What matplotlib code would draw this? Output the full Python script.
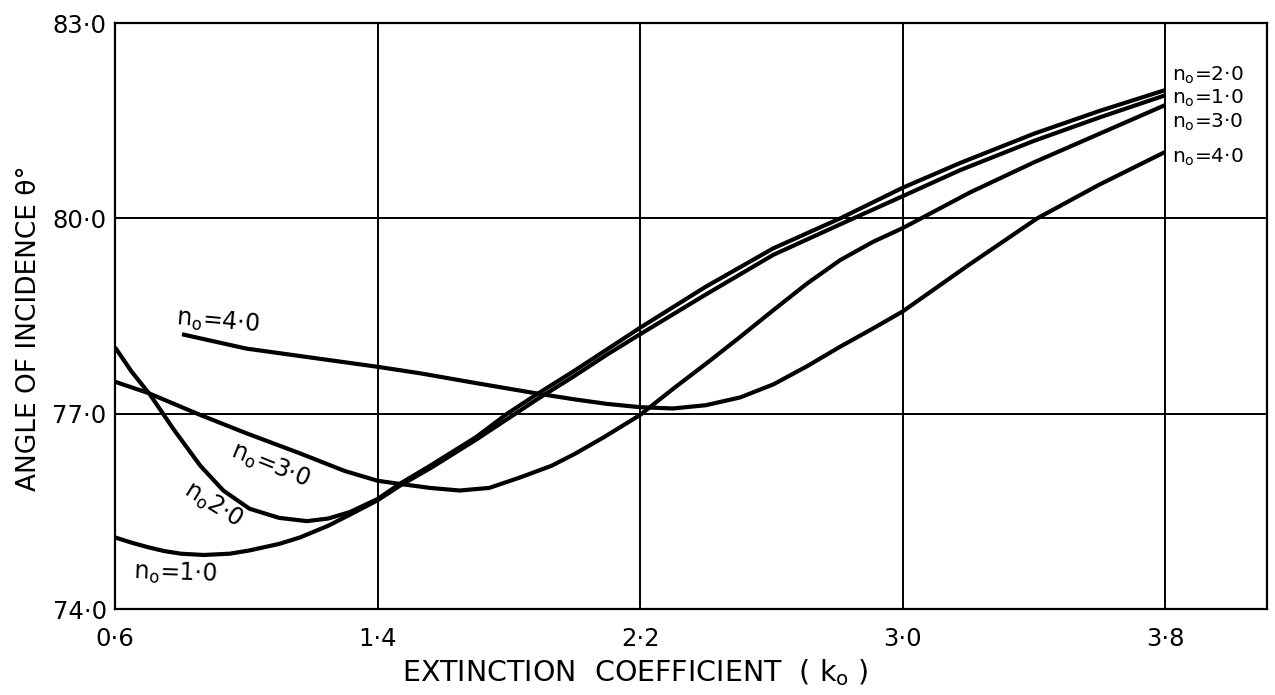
import numpy as np
import matplotlib.pyplot as plt

plt.rcParams['font.family'] = 'DejaVu Sans'
plt.rcParams['mathtext.default'] = 'regular'

# angle of incidence vs extinction coefficient, one curve per n_o
k_n1 = [0.60, 0.65, 0.70, 0.75, 0.80, 0.87, 0.95, 1.01, 1.10, 1.164, 1.25, 1.32, 1.40, 1.47, 1.56,
        1.70, 1.82, 1.886, 2.00, 2.10, 2.20, 2.40, 2.606, 2.85, 3.00, 3.175, 3.40, 3.60, 3.80]
th_n1 = [75.10, 75.02, 74.95, 74.89, 74.85, 74.83, 74.85, 74.90, 75.00, 75.10, 75.28, 75.46, 75.67, 75.90, 76.16,
         76.60, 77.00, 77.22, 77.58, 77.91, 78.22, 78.83, 79.44, 80.00, 80.34, 80.74, 81.19, 81.55, 81.89]

k_n2 = [0.60, 0.65, 0.707, 0.78, 0.86, 0.93, 1.01, 1.10, 1.185, 1.25, 1.316, 1.40, 1.47,
        1.56, 1.70, 1.795, 1.886, 2.00, 2.10, 2.20, 2.40, 2.606, 2.81, 3.00, 3.175, 3.40, 3.60, 3.80]
th_n2 = [78.02, 77.65, 77.29, 76.75, 76.20, 75.82, 75.54, 75.40, 75.35, 75.39, 75.49, 75.69, 75.93,
         76.20, 76.64, 77.00, 77.30, 77.66, 77.99, 78.32, 78.95, 79.54, 80.00, 80.47, 80.85, 81.30, 81.65, 81.97]

k_n3 = [0.60, 0.70, 0.86, 1.00, 1.164, 1.30, 1.40, 1.47, 1.56, 1.65, 1.74, 1.834, 1.93, 2.00,
        2.09, 2.20, 2.30, 2.404, 2.505, 2.606, 2.709, 2.81, 2.91, 3.00, 3.206, 3.40, 3.60, 3.80]
th_n3 = [77.49, 77.32, 76.98, 76.70, 76.39, 76.12, 75.97, 75.92, 75.86, 75.82, 75.86, 76.02, 76.20, 76.38,
         76.64, 76.98, 77.38, 77.78, 78.18, 78.59, 79.00, 79.36, 79.64, 79.85, 80.40, 80.86, 81.30, 81.74]

k_n4 = [0.804, 1.00, 1.20, 1.40, 1.53, 1.70, 1.886, 2.00, 2.10, 2.20, 2.30, 2.40, 2.505, 2.606,
        2.709, 2.81, 2.91, 3.00, 3.20, 3.41, 3.60, 3.80]
th_n4 = [78.22, 78.00, 77.86, 77.72, 77.62, 77.47, 77.31, 77.22, 77.15, 77.10, 77.08, 77.13, 77.25, 77.45,
         77.73, 78.03, 78.31, 78.57, 79.28, 80.00, 80.52, 81.02]

xticks = [0.6, 1.4, 2.2, 3.0, 3.8]
xtick_labels = ['0·6', '1·4', '2·2', '3·0', '3·8']
yticks = [74.0, 77.0, 80.0, 83.0]
ytick_labels = ['74·0', '77·0', '80·0', '83·0']

fig = plt.figure(figsize=(12.75, 6.95), dpi=100)
ax = fig.add_axes([0.0902, 0.1237, 0.9035, 0.8432])

lw = 3.0
for k, th in [(k_n1, th_n1), (k_n2, th_n2), (k_n3, th_n3), (k_n4, th_n4)]:
    ax.plot(k, th, color='black', lw=lw, solid_capstyle='butt', solid_joinstyle='round', zorder=3)

ax.set_xlim(0.6, 4.11)
ax.set_ylim(74.0, 83.0)
ax.set_xticks(xticks)
ax.set_xticklabels(xtick_labels)
ax.set_yticks(yticks)
ax.set_yticklabels(ytick_labels)
ax.tick_params(axis='both', length=0, labelsize=17.5)
ax.tick_params(axis='x', pad=13)
ax.tick_params(axis='y', pad=6)
ax.grid(True, color='black', lw=1.4)
for s in ax.spines.values():
    s.set_linewidth(1.6)

ax.set_xlabel('EXTINCTION  COEFFICIENT  ( k$_o$ )', fontsize=20.5, va='center')
ax.xaxis.set_label_coords(0.452, -0.109)
ax.set_ylabel('ANGLE OF INCIDENCE θ°', fontsize=19)
ax.yaxis.set_label_coords(-0.063, 0.48)

# curve labels inside the plot
ax.text(0.914, 78.41, 'n$_o$=4·0', fontsize=17, rotation=-5, ha='center', va='center')
ax.text(1.072, 76.21, 'n$_o$=3·0', fontsize=17, rotation=-22, ha='center', va='center')
ax.text(0.899, 75.60, 'n$_o$2·0', fontsize=17, rotation=-32, ha='center', va='center')
ax.text(0.783, 74.55, 'n$_o$=1·0', fontsize=17, rotation=-2, ha='center', va='center')

# labels at the right-hand ends
for y, s in [(82.20, 'n$_o$=2·0'), (81.85, 'n$_o$=1·0'), (81.48, 'n$_o$=3·0'), (80.93, 'n$_o$=4·0')]:
    ax.text(3.822, y, s, fontsize=14.5, ha='left', va='center')

fig.savefig('out.png', dpi=100)
